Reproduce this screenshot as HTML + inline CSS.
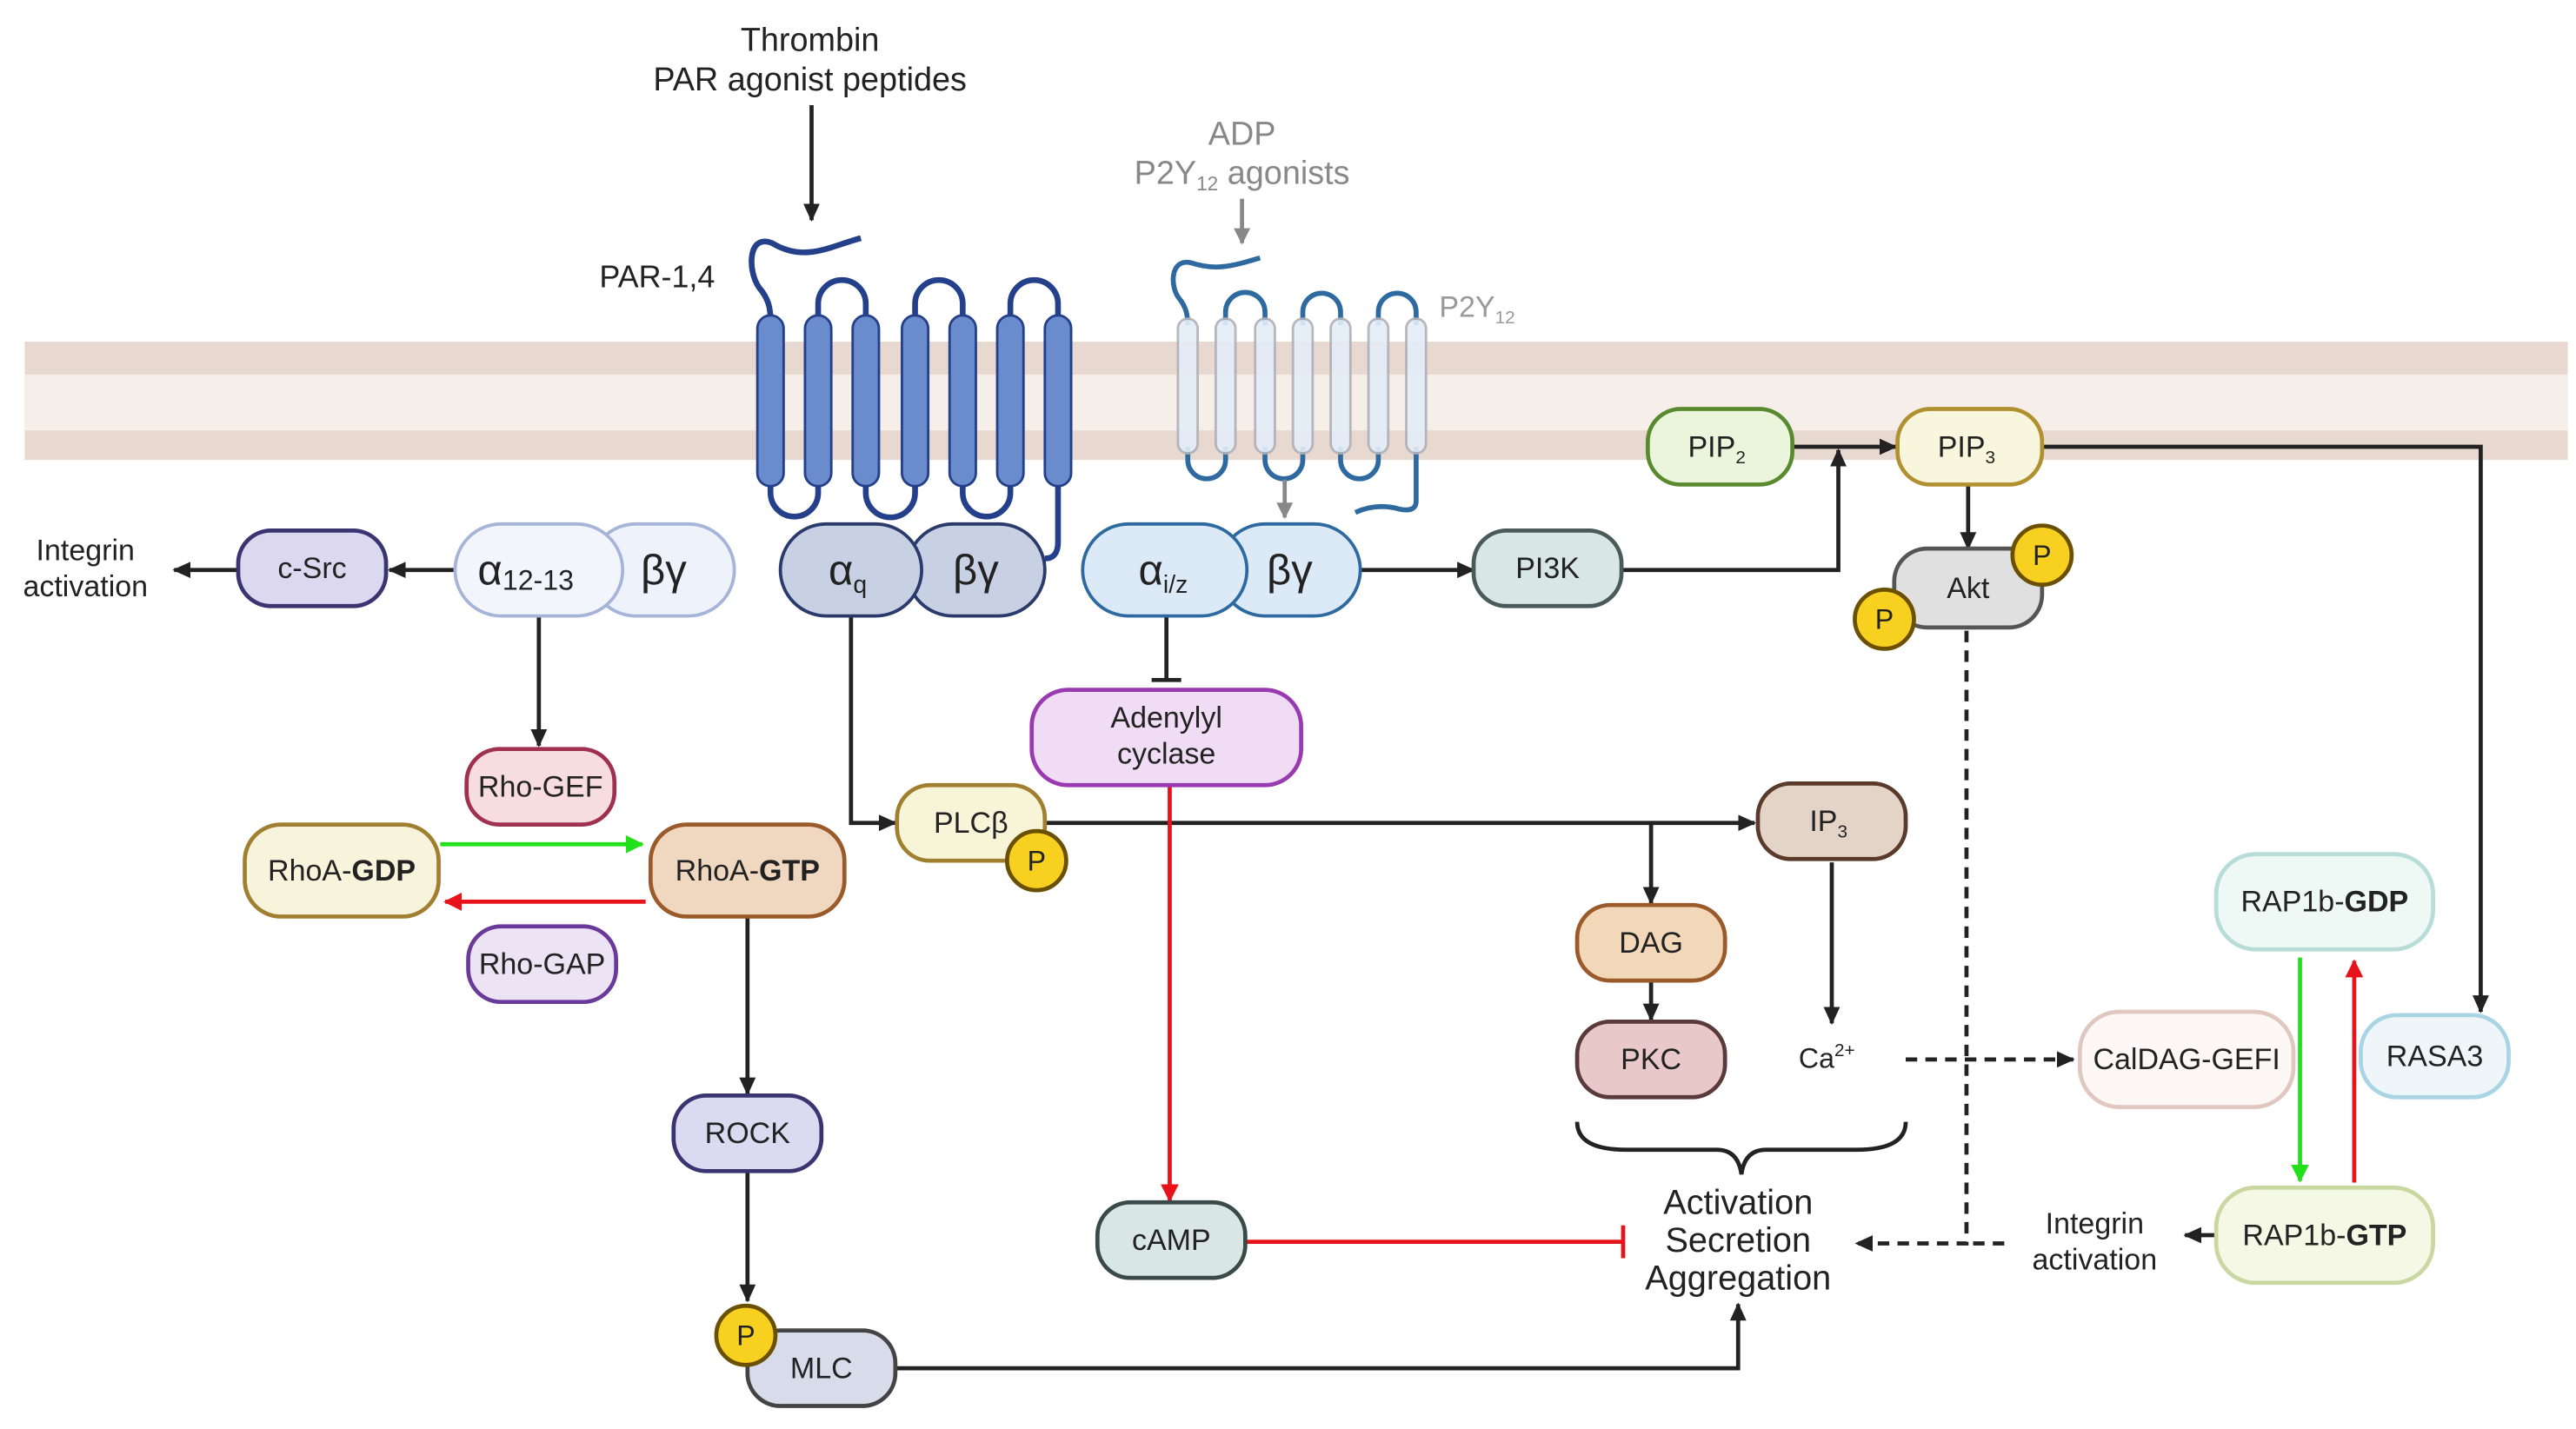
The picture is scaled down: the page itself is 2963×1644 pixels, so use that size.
<!DOCTYPE html>
<html><head><meta charset="utf-8"><style>
html,body{margin:0;padding:0;background:#fff}
svg{display:block}
text{font-family:"Liberation Sans",sans-serif;fill:#222}
</style></head><body>
<svg width="2963" height="1644" viewBox="0 0 1568 870" preserveAspectRatio="none" xmlns="http://www.w3.org/2000/svg">
<defs>
<marker id="ab" markerWidth="11" markerHeight="10" refX="10" refY="5" orient="auto" markerUnits="userSpaceOnUse"><path d="M0,0 L11,5 L0,10z" fill="#222"/></marker>
<marker id="ag" markerWidth="10" markerHeight="10" refX="9" refY="5" orient="auto" markerUnits="userSpaceOnUse"><path d="M0,0 L10,5 L0,10z" fill="#888"/></marker>
<marker id="ar" markerWidth="11" markerHeight="11" refX="10" refY="5.5" orient="auto" markerUnits="userSpaceOnUse"><path d="M0,0 L11,5.5 L0,11z" fill="#e8121a"/></marker>
<marker id="agr" markerWidth="11" markerHeight="11" refX="10" refY="5.5" orient="auto" markerUnits="userSpaceOnUse"><path d="M0,0 L11,5.5 L0,11z" fill="#22e01a"/></marker>
</defs>
<!-- membrane -->
<rect x="15" y="208" width="1548" height="72" fill="#e8d9d0"/>
<rect x="15" y="228" width="1548" height="34" fill="#f6eee9"/>

<text x="493" y="31" font-size="20" text-anchor="middle">Thrombin</text>
<text x="493" y="55" font-size="20" text-anchor="middle">PAR agonist peptides</text>
<line x1="494" y1="64" x2="494" y2="134" stroke="#222" stroke-width="2.5" marker-end="url(#ab)"/>
<text x="400" y="175" font-size="19" text-anchor="middle">PAR-1,4</text>

<g stroke="#24408a" stroke-width="3.5" fill="none">
<path d="M524,145 C505,150 490,160 470,148 C455,142 455,165 462,175 C468,182 469,188 469,195"/>
<path d="M498,195 V185 A14.5,14.5 0 0 1 527,185 V195"/>
<path d="M557,195 V185 A14.5,14.5 0 0 1 586,185 V195"/>
<path d="M615,195 V185 A14.5,14.5 0 0 1 644,185 V195"/>
<path d="M469,292 V300 A14.5,14.5 0 0 0 498,300 V292"/>
<path d="M527,292 V300 A15,15 0 0 0 557,300 V292"/>
<path d="M586,292 V300 A14.5,14.5 0 0 0 615,300 V292"/>
<path d="M644,292 V330 Q644,340 636,340"/>
</g>
<g fill="#6a8ccc" stroke="#24408a" stroke-width="1.5">
<rect x="461" y="192" width="16" height="104" rx="8"/><rect x="490" y="192" width="16" height="104" rx="8"/>
<rect x="519" y="192" width="16" height="104" rx="8"/><rect x="549" y="192" width="16" height="104" rx="8"/>
<rect x="578" y="192" width="16" height="104" rx="8"/><rect x="607" y="192" width="16" height="104" rx="8"/>
<rect x="636" y="192" width="16" height="104" rx="8"/>
</g>

<text x="756" y="88" font-size="20" text-anchor="middle" style="fill:#888">ADP</text>
<text x="756" y="112" font-size="20" text-anchor="middle" style="fill:#888">P2Y<tspan font-size="12" dy="4">12</tspan><tspan dy="-4"> agonists</tspan></text>
<line x1="756" y1="121" x2="756" y2="148" stroke="#888" stroke-width="2.5" marker-end="url(#ag)"/>
<text x="876" y="193" font-size="18" style="fill:#999">P2Y<tspan font-size="11" dy="4">12</tspan></text>
<g stroke="#2e6aa0" stroke-width="3" fill="none">
<path d="M767,157 C750,162 740,165 725,160 C712,157 712,175 718,182 C722,187 723,192 723,198"/>
<path d="M746,198 V190 A12,12 0 0 1 770,190 V198"/>
<path d="M793,198 V190 A11.5,11.5 0 0 1 816,190 V198"/>
<path d="M839,198 V190 A11.5,11.5 0 0 1 862,190 V198"/>
<path d="M723,272 V280 A11.5,11.5 0 0 0 746,280 V272"/>
<path d="M770,272 V280 A11.5,11.5 0 0 0 793,280 V272"/>
<path d="M816,272 V280 A11.5,11.5 0 0 0 839,280 V272"/>
<path d="M862,272 V305 Q862,312 852,310 Q838,306 825,312"/>
</g>
<g fill="#e4eef8" stroke="#b0b0b8" stroke-width="1.5" opacity="0.9">
<rect x="717" y="194" width="12" height="82" rx="6"/><rect x="740" y="194" width="12" height="82" rx="6"/>
<rect x="764" y="194" width="12" height="82" rx="6"/><rect x="787" y="194" width="12" height="82" rx="6"/>
<rect x="810" y="194" width="12" height="82" rx="6"/><rect x="833" y="194" width="12" height="82" rx="6"/>
<rect x="856" y="194" width="12" height="82" rx="6"/>
</g>
<line x1="782" y1="292" x2="782" y2="315" stroke="#888" stroke-width="2.5" marker-end="url(#ag)"/>

<g stroke="#222" stroke-width="2.5" fill="none">
<line x1="277" y1="347" x2="237" y2="347" marker-end="url(#ab)"/>
<line x1="145" y1="347" x2="106" y2="347" marker-end="url(#ab)"/>
<line x1="328" y1="375" x2="328" y2="454" marker-end="url(#ab)"/>
<line x1="455" y1="558" x2="455" y2="666" marker-end="url(#ab)"/>
<line x1="455" y1="714" x2="455" y2="792" marker-end="url(#ab)"/>
<polyline points="545,833 1058,833 1058,794" marker-end="url(#ab)"/>
<polyline points="518,375 518,501 545,501" marker-end="url(#ab)"/>
<line x1="636" y1="501" x2="1068" y2="501" marker-end="url(#ab)"/>
<line x1="1005" y1="501" x2="1005" y2="550" marker-end="url(#ab)"/>
<line x1="1005" y1="598" x2="1005" y2="621" marker-end="url(#ab)"/>
<line x1="1115" y1="525" x2="1115" y2="623" marker-end="url(#ab)"/>
<line x1="827" y1="347" x2="897" y2="347" marker-end="url(#ab)"/>
<polyline points="987,347 1119,347 1119,274" marker-end="url(#ab)"/>
<line x1="1091" y1="272" x2="1154" y2="272" marker-end="url(#ab)"/>
<polyline points="1244,272 1510,272 1510,616" marker-end="url(#ab)"/>
<line x1="1198" y1="296" x2="1198" y2="334" marker-end="url(#ab)"/>
<line x1="1348" y1="752" x2="1330" y2="752" marker-end="url(#ab)"/>
<line x1="710" y1="375" x2="710" y2="414"/>
<line x1="701" y1="414" x2="719" y2="414"/>
<polyline points="1197,384 1197,757 1130,757" stroke-dasharray="7,5" marker-end="url(#ab)"/>
<line x1="1220" y1="757" x2="1197" y2="757" stroke-dasharray="7,5"/>
<line x1="1160" y1="645" x2="1262" y2="645" stroke-dasharray="7,5" marker-end="url(#ab)"/>
<path d="M960,683 Q960,700 990,700 L1045,700 Q1058,700 1060,715 Q1062,700 1075,700 L1130,700 Q1160,700 1160,683" stroke-width="2.5"/>
</g>
<g stroke-width="2.5" fill="none">
<line x1="268" y1="514" x2="391" y2="514" stroke="#22e01a" marker-end="url(#agr)"/>
<line x1="393" y1="549" x2="271" y2="549" stroke="#e8121a" marker-end="url(#ar)"/>
<line x1="712" y1="478" x2="712" y2="731" stroke="#e8121a" marker-end="url(#ar)"/>
<line x1="758" y1="756" x2="988" y2="756" stroke="#e8121a"/>
<line x1="988" y1="746" x2="988" y2="766" stroke="#e8121a"/>
<line x1="1400" y1="583" x2="1400" y2="719" stroke="#22e01a" marker-end="url(#agr)"/>
<line x1="1433" y1="720" x2="1433" y2="585" stroke="#e8121a" marker-end="url(#ar)"/>
</g>

<g stroke-width="2">
<rect x="359" y="319" width="88" height="56" rx="28" fill="#eef2fa" stroke="#a6b4d8"/>
<rect x="277" y="319" width="102" height="56" rx="28" fill="#f2f5fc" stroke="#a6b4d8"/>
<rect x="552" y="319" width="84" height="56" rx="28" fill="#c8d0e4" stroke="#2a3a6a"/>
<rect x="475" y="319" width="86" height="56" rx="28" fill="#c8d0e4" stroke="#2a3a6a"/>
<rect x="742" y="319" width="86" height="56" rx="28" fill="#dceaf8" stroke="#2e6aa0"/>
<rect x="659" y="319" width="100" height="56" rx="28" fill="#dceaf8" stroke="#2e6aa0"/>
</g>
<text x="404" y="356" font-size="26" text-anchor="middle">βγ</text>
<text x="320" y="356" font-size="26" text-anchor="middle">α<tspan font-size="17" dy="3">12-13</tspan></text>
<text x="594" y="356" font-size="26" text-anchor="middle">βγ</text>
<text x="516" y="356" font-size="26" text-anchor="middle">α<tspan font-size="15" dy="5">q</tspan></text>
<text x="785" y="356" font-size="26" text-anchor="middle">βγ</text>
<text x="708" y="356" font-size="26" text-anchor="middle">α<tspan font-size="15" dy="5">i/z</tspan></text>

<g stroke-width="2.5">
<rect x="145" y="323" width="90" height="46" rx="20" fill="#dcd8f0" stroke="#3a3470"/>
<rect x="897" y="323" width="90" height="46" rx="20" fill="#d8e6e4" stroke="#4a5a5a"/>
<rect x="1003" y="249" width="88" height="46" rx="20" fill="#eaf5dc" stroke="#5a8a30"/>
<rect x="1155" y="249" width="88" height="46" rx="20" fill="#f8f6dc" stroke="#b09030"/>
<rect x="1153" y="334" width="90" height="48" rx="20" fill="#e0e0e0" stroke="#555"/>
<rect x="284" y="456" width="90" height="46" rx="20" fill="#f8dde0" stroke="#a03050"/>
<rect x="149" y="502" width="118" height="56" rx="22" fill="#f8f4dc" stroke="#a08030"/>
<rect x="396" y="502" width="118" height="56" rx="22" fill="#f0d8c0" stroke="#9a5a2a"/>
<rect x="285" y="564" width="90" height="46" rx="20" fill="#ece4f4" stroke="#6a3a9a"/>
<rect x="410" y="667" width="90" height="46" rx="20" fill="#dcdaf0" stroke="#3a3470"/>
<rect x="455" y="810" width="90" height="46" rx="20" fill="#d8dcea" stroke="#444"/>
<rect x="546" y="478" width="90" height="46" rx="20" fill="#f8f4d8" stroke="#a08030"/>
<rect x="628" y="420" width="164" height="58" rx="22" fill="#f0dcf4" stroke="#9a3ab0"/>
<rect x="1070" y="477" width="90" height="46" rx="20" fill="#e4d4c8" stroke="#5a3a2a"/>
<rect x="960" y="551" width="90" height="46" rx="20" fill="#f2d8b8" stroke="#9a5a2a"/>
<rect x="960" y="622" width="90" height="46" rx="20" fill="#e8c8c8" stroke="#5a3a3a"/>
<rect x="668" y="732" width="90" height="46" rx="20" fill="#d8e6e4" stroke="#3a4a4a"/>
<rect x="1266" y="616" width="130" height="58" rx="24" fill="#fdf8f6" stroke="#e0c8c0"/>
<rect x="1349" y="520" width="132" height="58" rx="24" fill="#eef8f4" stroke="#b8dcd8"/>
<rect x="1349" y="723" width="132" height="58" rx="24" fill="#f4f8e4" stroke="#c8d8a0"/>
<rect x="1437" y="618" width="90" height="50" rx="22" fill="#eef6fa" stroke="#a8d4e4"/>
</g>
<g fill="#f8d020" stroke="#6a5000" stroke-width="2.5">
<circle cx="1243" cy="338" r="18"/><circle cx="1147" cy="377" r="18"/>
<circle cx="631" cy="524" r="18"/><circle cx="454" cy="813" r="18"/>
</g>
<g font-size="17" text-anchor="middle">
<text x="1243" y="344">P</text><text x="1147" y="383">P</text><text x="631" y="530">P</text><text x="454" y="819">P</text>
<text x="190" y="352" font-size="18">c-Src</text>
<text x="942" y="352" font-size="18">PI3K</text>
<text x="1045" y="278" font-size="18">PIP<tspan font-size="11" dy="4">2</tspan></text>
<text x="1197" y="278" font-size="18">PIP<tspan font-size="11" dy="4">3</tspan></text>
<text x="1198" y="364" font-size="18">Akt</text>
<text x="329" y="485" font-size="18">Rho-GEF</text>
<text x="208" y="536" font-size="18">RhoA-<tspan font-weight="bold">GDP</tspan></text>
<text x="455" y="536" font-size="18">RhoA-<tspan font-weight="bold">GTP</tspan></text>
<text x="330" y="593" font-size="18">Rho-GAP</text>
<text x="455" y="696" font-size="18">ROCK</text>
<text x="500" y="839" font-size="18">MLC</text>
<text x="591" y="507" font-size="18">PLCβ</text>
<text x="710" y="443" font-size="18">Adenylyl</text>
<text x="710" y="465" font-size="18">cyclase</text>
<text x="1113" y="506" font-size="18">IP<tspan font-size="11" dy="4">3</tspan></text>
<text x="1005" y="580" font-size="18">DAG</text>
<text x="1005" y="651" font-size="18">PKC</text>
<text x="1112" y="650" font-size="17">Ca<tspan font-size="11" dy="-7">2+</tspan></text>
<text x="713" y="761" font-size="18">cAMP</text>
<text x="1331" y="651" font-size="18">CalDAG-GEFI</text>
<text x="1415" y="555" font-size="18">RAP1b-<tspan font-weight="bold">GDP</tspan></text>
<text x="1415" y="758" font-size="18">RAP1b-<tspan font-weight="bold">GTP</tspan></text>
<text x="1482" y="649" font-size="18">RASA3</text>
<text x="52" y="341" font-size="18">Integrin</text>
<text x="52" y="363" font-size="18">activation</text>
<text x="1275" y="751" font-size="18">Integrin</text>
<text x="1275" y="773" font-size="18">activation</text>
<text x="1058" y="739" font-size="21">Activation</text>
<text x="1058" y="762" font-size="21">Secretion</text>
<text x="1058" y="785" font-size="21">Aggregation</text>
</g>
</svg>
</body></html>
